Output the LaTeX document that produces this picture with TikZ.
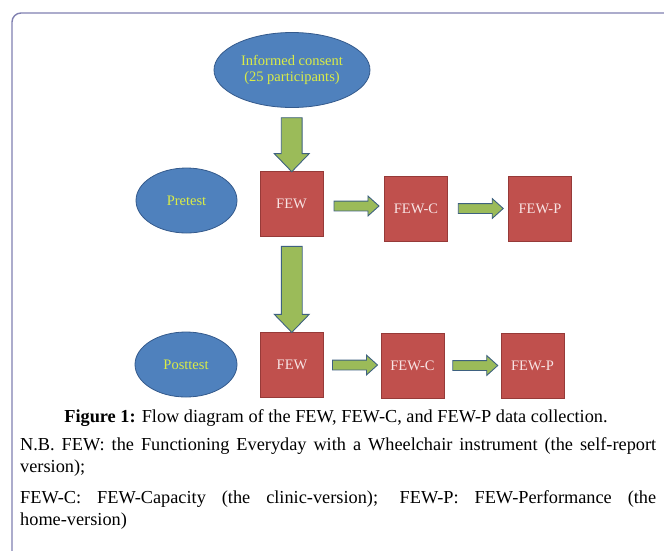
\documentclass[tikz,border=0pt]{standalone}
\usepackage{fontspec}
\setmainfont{Liberation Serif}
\usetikzlibrary{shapes.arrows,shapes.geometric}
\definecolor{frm}{RGB}{128,128,176}
\definecolor{blu}{RGB}{79,129,189}
\definecolor{bluline}{RGB}{52,90,140}
\definecolor{ylw}{RGB}{218,236,70}
\definecolor{rd}{RGB}{192,80,77}
\definecolor{rdline}{RGB}{150,58,56}
\definecolor{rdtext}{RGB}{248,228,228}
\definecolor{grn}{RGB}{155,187,89}
\definecolor{grnline}{RGB}{62,97,128}
\begin{document}
\begin{tikzpicture}[x=1pt,y=-1pt,
        oval/.style={draw=bluline,fill=blu,ellipse,line width=0.8pt,text=ylw,align=center,
            font=\fontsize{14.5}{16}\selectfont,inner sep=0pt},
        box/.style={draw=rdline,fill=rd,line width=0.6pt,minimum width=63pt,minimum height=65pt,
            text=rdtext,font=\fontsize{14.5}{16}\selectfont,inner sep=0pt},
        harrow/.style={single arrow,draw=grnline,fill=grn,line width=0.9pt,inner xsep=0pt,inner ysep=0pt,
            text height=4.5pt,text depth=4.5pt,single arrow head extend=5pt,single arrow tip angle=84,
            minimum height=45pt},
        varrow/.style={single arrow,draw=grnline,fill=grn,line width=0.9pt,inner xsep=0pt,inner ysep=0pt,
            text height=10pt,text depth=10pt,single arrow head extend=7pt,single arrow tip angle=88,
            rotate=-90,minimum height=#1},
        txt/.style={inner sep=0pt,font=\fontsize{18.3}{22}\selectfont}]
    \useasboundingbox (0,0) rectangle (664,550);
    %% frame
    \draw[frm,line width=1.4pt,rounded corners=9pt] (12,700) |- (720,13);
    %% ovals
    \node[oval,minimum width=156pt,minimum height=75pt] (IC) at (292,70) {Informed consent\\(25 participants)};
    \node[oval,minimum width=101pt,minimum height=65pt] (Pre) at (186.5,200.5) {Pretest};
    \node[oval,minimum width=102pt,minimum height=65pt] (Post) at (186,364.5) {Posttest};
    %% pretest boxes
    \node[box] (F1) at (291.5,203.5) {FEW};
    \node[box] (C1) at (416,208.5) {FEW-C};
    \node[box] (P1) at (540,208.5) {FEW-P};
    %% posttest boxes
    \node[box] (F2) at (292,364.5) {FEW};
    \node[box] (C2) at (412.5,365.5) {FEW-C};
    \node[box] (P2) at (532.5,365.5) {FEW-P};
    %% arrows
    \path (IC) -- node[varrow=54pt] {} (F1);
    \path (F1) -- node[varrow=86pt] {} (F2);
    \path (F1) -- node[harrow] {} (C1);
    \path (C1) -- node[harrow] {} (P1);
    \path (F2) -- node[harrow] {} (C2);
    \path (C2) -- node[harrow] {} (P2);
    %% caption and notes
    \node[txt,anchor=base] (cap) at (336,422.5) {\textbf{Figure 1:} Flow diagram of the FEW, FEW-C, and FEW-P data collection.};
    \node[txt,anchor=base west,text width=636pt,align=justify] (nb1) at (20,450)
        {N.B. FEW: the Functioning Everyday with a Wheelchair instrument (the self-report\linebreak version);};
    \node[txt,anchor=base west,text width=636pt,align=justify] (nb2) at (20,503)
        {FEW-C: FEW-Capacity (the clinic-version); FEW-P: FEW-Performance (the\linebreak home-version)};
\end{tikzpicture}
\end{document}
